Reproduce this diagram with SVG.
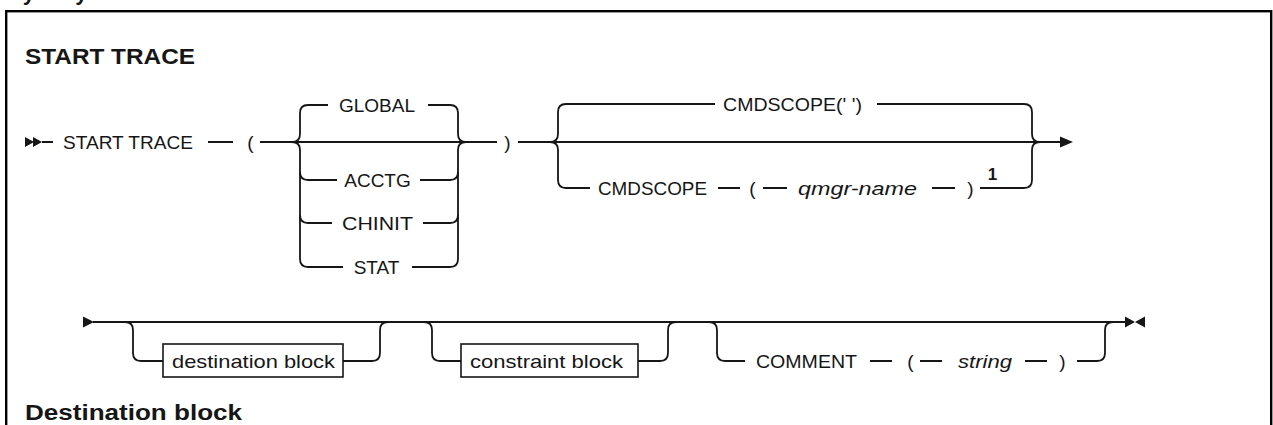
<svg xmlns="http://www.w3.org/2000/svg" width="1273" height="425" viewBox="0 0 1273 425">
<style>
.t{font-family:"Liberation Sans",Arial,sans-serif;font-size:19px;fill:#161616}
.i{font-style:italic}
.h{font-family:"Liberation Sans",Arial,sans-serif;font-size:22px;font-weight:bold;fill:#161616}
.m{text-anchor:middle}
.l{fill:none;stroke:#161616;stroke-width:1.8}
.b{fill:#fff;stroke:#161616;stroke-width:1.6}
.k{fill:#161616;stroke:none}
</style>
<rect width="1273" height="425" fill="#fff"/>
<text class="h" x="8" y="-0.5">Synonym: STA TRA</text>
<rect x="6.2" y="11.2" width="1265" height="500" fill="none" stroke="#000" stroke-width="2.4"/>
<text class="h" x="25" y="64" textLength="170" lengthAdjust="spacingAndGlyphs">START TRACE</text>
<text class="h" x="25" y="420" textLength="217" lengthAdjust="spacingAndGlyphs">Destination block</text>

<g id="connectors">
<path class="k" d="M25,137 L34,142 L25,147 Z M33,137 L42,142 L33,147 Z"/>
<path class="l" d="M42,142 H53 M208,142 H233 M260,142 H497 M518,142 H1062"/>
<path class="k" d="M1060,136.5 L1073,142 L1060,147.5 Z"/>
<path class="l" d="M292,142 Q300,142 300,134 V113 Q300,105 308,105 H328"/>
<path class="l" d="M292,142 Q300,142 300,150 V259 Q300,267 308,267 H343"/>
<path class="l" d="M300,172 Q300,180 308,180 H337"/>
<path class="l" d="M300,215 Q300,223 308,223 H332"/>
<path class="l" d="M428,105 H450 Q458,105 458,113 V134 Q458,142 466,142"/>
<path class="l" d="M412,267 H450 Q458,267 458,259 V150 Q458,142 466,142"/>
<path class="l" d="M420,180 H450 Q458,180 458,172"/>
<path class="l" d="M423,223 H450 Q458,223 458,215"/>
<path class="l" d="M550,142 Q558,142 558,134 V112 Q558,104 566,104 H715"/>
<path class="l" d="M877,104 H1024 Q1032,104 1032,112 V134 Q1032,142 1040,142"/>
<path class="l" d="M550,142 Q558,142 558,150 V180 Q558,188 566,188 H590"/>
<path class="l" d="M718,188 H740 M763,188 H787 M932,188 H955"/>
<path class="l" d="M980,188 H1024 Q1032,188 1032,180 V150 Q1032,142 1040,142"/>
<path class="k" d="M83,316.5 L94,322 L83,327.5 Z"/>
<path class="l" d="M93,322 H1127"/>
<path class="k" d="M1125,316.5 L1135,322 L1125,327.5 Z M1145,316.5 L1135,322 L1145,327.5 Z"/>
<path class="l" d="M125,322 Q133,322 133,330 V353 Q133,361 141,361 H163 M343,361 H372 Q380,361 380,353 V330 Q380,322 388,322"/>
<path class="l" d="M424,322 Q432,322 432,330 V353 Q432,361 440,361 H461 M638,361 H660 Q668,361 668,353 V330 Q668,322 676,322"/>
<path class="l" d="M709,322 Q717,322 717,330 V353 Q717,361 725,361 H745 M870,361 H892 M920,361 H942 M1025,361 H1047 M1077,361 H1097 Q1105,361 1105,353 V330 Q1105,322 1113,322"/>
</g>

<g id="n-start"><text class="t" x="63" y="149" textLength="130" lengthAdjust="spacingAndGlyphs">START TRACE</text></g>
<g id="n-lp1"><text class="t m" x="250.5" y="149">(</text></g>
<g id="n-global"><text class="t m" x="377" y="112">GLOBAL</text></g>
<g id="n-acctg"><text class="t m" x="377.5" y="187">ACCTG</text></g>
<g id="n-chinit"><text class="t m" x="377.5" y="230" textLength="71" lengthAdjust="spacingAndGlyphs">CHINIT</text></g>
<g id="n-stat"><text class="t m" x="376.5" y="274">STAT</text></g>
<g id="n-rp1"><text class="t m" x="507.5" y="149">)</text></g>
<g id="n-cmdscope-default"><text class="t" x="723" y="111" textLength="139" lengthAdjust="spacingAndGlyphs">CMDSCOPE(' ')</text></g>
<g id="n-cmdscope"><text class="t" x="598" y="195" textLength="109" lengthAdjust="spacingAndGlyphs">CMDSCOPE</text></g>
<g id="n-lp2"><text class="t m" x="752.5" y="195">(</text></g>
<g id="n-qmgr"><text class="t i" x="798" y="195" textLength="119" lengthAdjust="spacingAndGlyphs">qmgr-name</text></g>
<g id="n-rp2"><text class="t m" x="970.5" y="195">)</text></g>
<g id="n-note1"><text class="t m" x="992.5" y="180" style="font-size:17px;font-weight:bold">1</text></g>
<g id="n-dest"><rect class="b" x="163" y="344" width="180" height="33"/><text class="t" x="172" y="368" textLength="163" lengthAdjust="spacingAndGlyphs">destination block</text></g>
<g id="n-constraint"><rect class="b" x="461" y="344" width="177" height="33"/><text class="t" x="470" y="368" textLength="153" lengthAdjust="spacingAndGlyphs">constraint block</text></g>
<g id="n-comment"><text class="t" x="756" y="368" textLength="101" lengthAdjust="spacingAndGlyphs">COMMENT</text></g>
<g id="n-lp3"><text class="t m" x="910.5" y="368">(</text></g>
<g id="n-string"><text class="t i" x="958" y="368" textLength="54" lengthAdjust="spacingAndGlyphs">string</text></g>
<g id="n-rp3"><text class="t m" x="1062.5" y="368">)</text></g>
</svg>
